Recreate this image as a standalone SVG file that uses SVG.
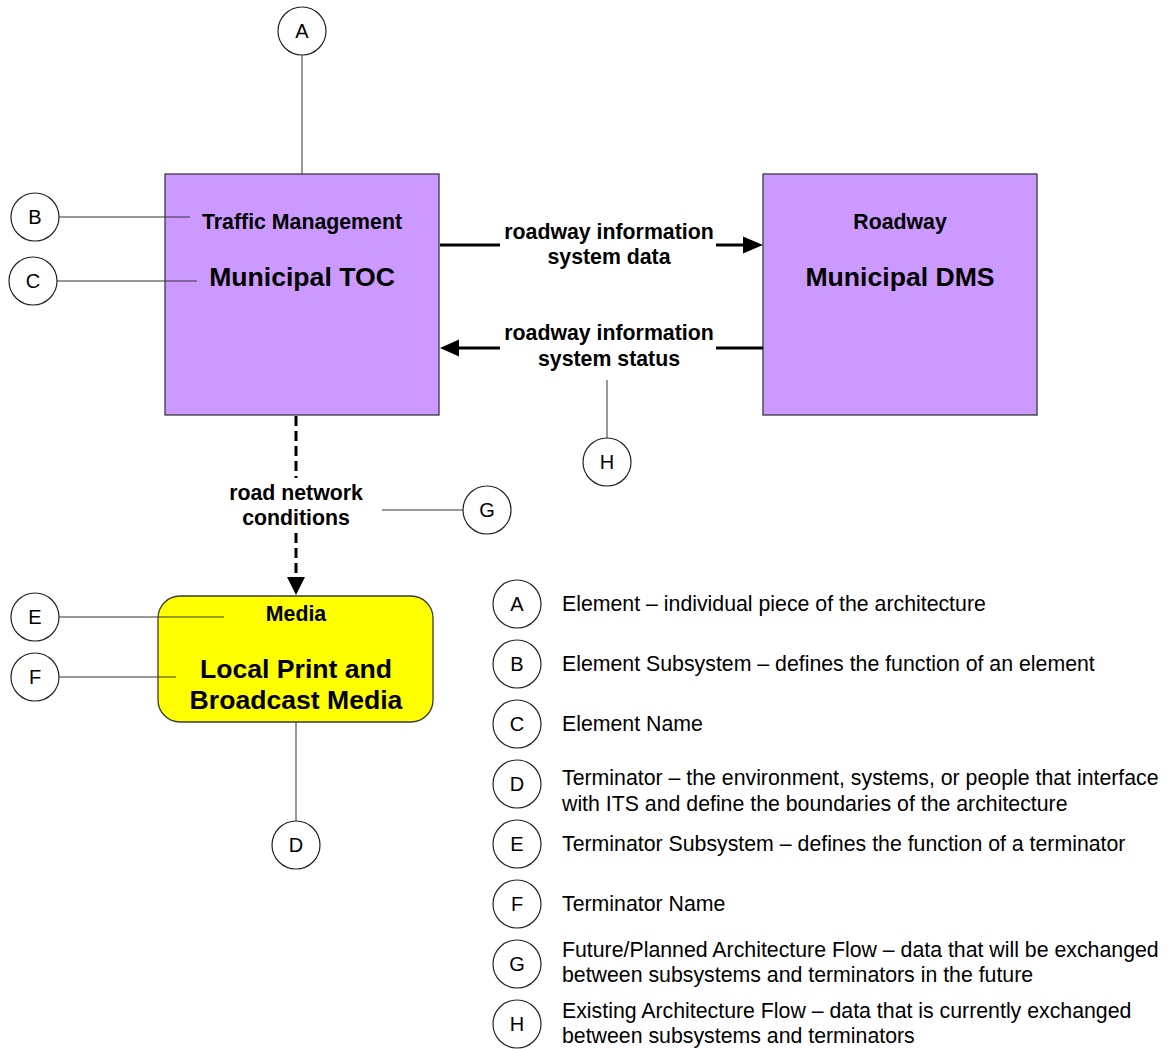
<svg xmlns="http://www.w3.org/2000/svg" width="1171" height="1049" viewBox="0 0 1171 1049">
<defs>
<style>
.box{fill:#CC99FF;stroke:#3a3a3a;stroke-width:1.3}
.term{fill:#FFFF00;stroke:#3a3a3a;stroke-width:1.3}
.b{font-family:"Liberation Sans",Arial,sans-serif;font-weight:bold;fill:#000;text-anchor:middle}
.sub{font-size:21.3px}
.name{font-size:26.6px}
.lbl{font-size:21.3px}
.flow{stroke:#000;stroke-width:3;fill:none}
.dash{stroke:#000;stroke-width:3;fill:none;stroke-dasharray:10 5}
.head{fill:#000;stroke:none}
.call{stroke:#333;stroke-width:1;fill:none}
.circ{fill:#fff;stroke:#222;stroke-width:1.2}
.cl{font-family:"Liberation Sans",Arial,sans-serif;font-size:20px;fill:#000;text-anchor:middle}
.leg{font-family:"Liberation Sans",Arial,sans-serif;font-size:21.3px;fill:#000}
</style>
</defs>

<g id="node-toc">
<rect class="box" x="165" y="174" width="274" height="241"/>
<text class="b sub" x="302" y="229">Traffic Management</text>
<text class="b name" x="302" y="286">Municipal TOC</text>
</g>

<g id="node-dms">
<rect class="box" x="763" y="174" width="274" height="241"/>
<text class="b sub" x="900" y="229">Roadway</text>
<text class="b name" x="900" y="286">Municipal DMS</text>
</g>

<g id="node-media">
<rect class="term" x="158" y="596" width="275" height="126" rx="22" ry="22"/>
<text class="b sub" x="296" y="621">Media</text>
<text class="b name" x="296" y="678">Local Print and</text>
<text class="b name" x="296" y="709">Broadcast Media</text>
</g>

<g id="connectors">
<line class="flow" x1="440" y1="245" x2="500" y2="245"/>
<line class="flow" x1="716" y1="245" x2="745" y2="245"/>
<path class="head" d="M763,245 L743,236.5 L743,253.5 Z"/>
<line class="flow" x1="763" y1="348" x2="716" y2="348"/>
<line class="flow" x1="500" y1="348" x2="457" y2="348"/>
<path class="head" d="M440,348 L459,339.5 L459,356.5 Z"/>
<line class="dash" x1="296" y1="416" x2="296" y2="478"/>
<line class="dash" x1="296" y1="533" x2="296" y2="578"/>
<path class="head" d="M296,595 L287,577 L305,577 Z"/>
</g>

<g id="flow-labels">
<text class="b lbl" x="609" y="239">roadway information</text>
<text class="b lbl" x="609" y="264">system data</text>
<text class="b lbl" x="609" y="340">roadway information</text>
<text class="b lbl" x="609" y="366">system status</text>
<text class="b lbl" x="296" y="500">road network</text>
<text class="b lbl" x="296" y="525">conditions</text>
</g>

<g id="callout-lines">
<line class="call" x1="302" y1="55" x2="302" y2="174"/>
<line class="call" x1="59" y1="217" x2="190" y2="217"/>
<line class="call" x1="57" y1="281" x2="197" y2="281"/>
<line class="call" x1="607" y1="380" x2="607" y2="438"/>
<line class="call" x1="382" y1="510" x2="463" y2="510"/>
<line class="call" x1="59" y1="617" x2="224" y2="617"/>
<line class="call" x1="59" y1="677" x2="176" y2="677"/>
<line class="call" x1="296" y1="722" x2="296" y2="821"/>
</g>

<g id="callouts">
<g id="call-A"><circle class="circ" cx="302" cy="31" r="24"/><text class="cl" x="302" y="38">A</text></g>
<g id="call-B"><circle class="circ" cx="35" cy="217" r="24"/><text class="cl" x="35" y="224">B</text></g>
<g id="call-C"><circle class="circ" cx="33" cy="281" r="24"/><text class="cl" x="33" y="288">C</text></g>
<g id="call-H"><circle class="circ" cx="607" cy="462" r="24"/><text class="cl" x="607" y="469">H</text></g>
<g id="call-G"><circle class="circ" cx="487" cy="510" r="24"/><text class="cl" x="487" y="517">G</text></g>
<g id="call-E"><circle class="circ" cx="35" cy="617" r="24"/><text class="cl" x="35" y="624">E</text></g>
<g id="call-F"><circle class="circ" cx="35" cy="677" r="24"/><text class="cl" x="35" y="684">F</text></g>
<g id="call-D"><circle class="circ" cx="296" cy="845" r="24"/><text class="cl" x="296" y="852">D</text></g>
</g>

<g id="legend">
<circle class="circ" cx="517" cy="604" r="24"/><text class="cl" x="517" y="611">A</text>
<text class="leg" x="562" y="611">Element – individual piece of the architecture</text>
<circle class="circ" cx="517" cy="664" r="24"/><text class="cl" x="517" y="671">B</text>
<text class="leg" x="562" y="671">Element Subsystem – defines the function of an element</text>
<circle class="circ" cx="517" cy="724" r="24"/><text class="cl" x="517" y="731">C</text>
<text class="leg" x="562" y="731">Element Name</text>
<circle class="circ" cx="517" cy="784" r="24"/><text class="cl" x="517" y="791">D</text>
<text class="leg" x="562" y="785">Terminator – the environment, systems, or people that interface</text>
<text class="leg" x="562" y="811">with ITS and define the boundaries of the architecture</text>
<circle class="circ" cx="517" cy="844" r="24"/><text class="cl" x="517" y="851">E</text>
<text class="leg" x="562" y="851">Terminator Subsystem – defines the function of a terminator</text>
<circle class="circ" cx="517" cy="904" r="24"/><text class="cl" x="517" y="911">F</text>
<text class="leg" x="562" y="911">Terminator Name</text>
<circle class="circ" cx="517" cy="964" r="24"/><text class="cl" x="517" y="971">G</text>
<text class="leg" x="562" y="957">Future/Planned Architecture Flow – data that will be exchanged</text>
<text class="leg" x="562" y="982">between subsystems and terminators in the future</text>
<circle class="circ" cx="517" cy="1024" r="24"/><text class="cl" x="517" y="1031">H</text>
<text class="leg" x="562" y="1018">Existing Architecture Flow – data that is currently exchanged</text>
<text class="leg" x="562" y="1043">between subsystems and terminators</text>
</g>
</svg>
